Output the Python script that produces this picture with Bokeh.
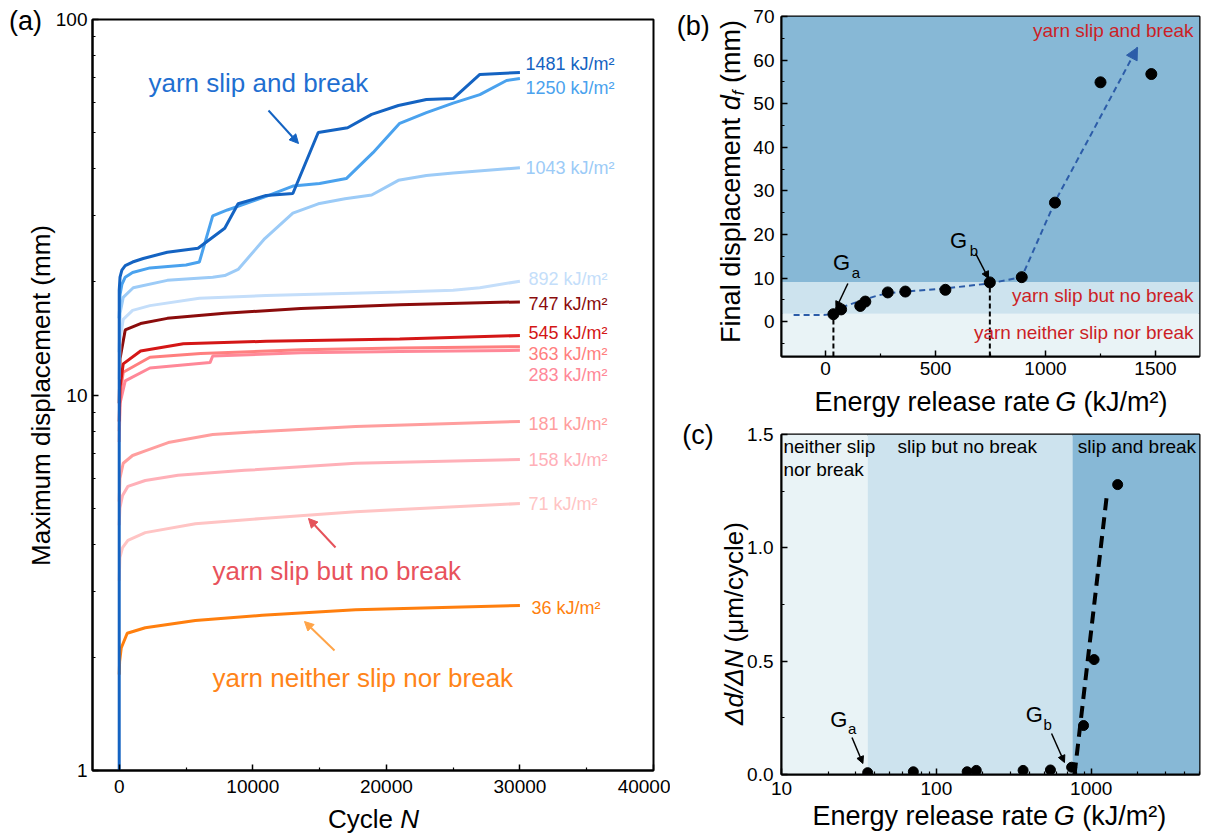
import numpy as np
from bokeh.plotting import figure
from bokeh.layouts import row, column
from bokeh.models import (Arrow, NormalHead, BoxAnnotation, FixedTicker,
                          PrintfTickFormatter, Range1d)
from bokeh.core.properties import value
from bokeh.embed import file_html
from bokeh.resources import INLINE

FONT = "Liberation Sans"
NB = "\u00a0"

# ------------------------------------------------------------------ data (a)
series_names = ["36", "71", "158", "181", "283", "363", "545", "747", "892", "1043", "1250", "1481"]

n_36 = [0, 30, 150, 600, 1950, 5700, 10700, 17700, 30000]
d_36 = [1.8, 1.95, 2.12, 2.32, 2.40, 2.51, 2.59, 2.68, 2.75]
n_71 = [0, 50, 250, 650, 1950, 5700, 10700, 17700, 30000]
d_71 = [3.2, 3.69, 3.92, 4.10, 4.30, 4.54, 4.69, 4.89, 5.14]
n_158 = [0, 50, 250, 650, 1950, 4400, 9400, 17700, 30000]
d_158 = [4.5, 5.0, 5.4, 5.71, 5.92, 6.11, 6.3, 6.58, 6.73]
n_181 = [0, 50, 300, 1000, 1950, 3670, 7000, 10700, 17700, 30000]
d_181 = [5.2, 6.0, 6.58, 6.9, 7.1, 7.47, 7.85, 8.0, 8.24, 8.5]
n_283 = [0, 60, 450, 2300, 6800, 7000, 13600, 21000, 30000]
d_283 = [7.5, 9.5, 10.9, 11.8, 12.2, 12.7, 12.95, 13.05, 13.15]
n_363 = [0, 60, 300, 2300, 6100, 13600, 21000, 30000]
d_363 = [8.0, 10.0, 11.5, 12.6, 12.9, 13.2, 13.35, 13.45]
n_545 = [0, 60, 300, 1600, 4800, 11000, 21000, 30000]
d_545 = [8.5, 10.5, 12.1, 13.1, 13.7, 13.9, 14.1, 14.4]
n_747 = [0, 60, 450, 1600, 3600, 7900, 13600, 21000, 30000]
d_747 = [9.5, 12.5, 14.9, 15.5, 16.0, 16.5, 17.0, 17.4, 17.7]
n_892 = [0, 60, 300, 1000, 2300, 6000, 11000, 16000, 21000, 25000, 27000, 30000]
d_892 = [11.0, 14.0, 15.9, 16.8, 17.3, 18.1, 18.4, 18.6, 18.8, 19.0, 19.3, 20.1]
n_1043 = [0, 60, 300, 1050, 3600, 7000, 7900, 8900, 10900, 13000, 14900, 16900, 18900, 20900, 23000, 25000, 30000]
d_1043 = [13.0, 16.5, 18.2, 19.3, 20.2, 20.6, 20.8, 21.6, 26.1, 30.5, 32.3, 33.3, 34.1, 37.3, 38.4, 39.0, 40.3]
n_1250 = [0, 60, 200, 450, 1000, 2300, 5000, 6000, 7000, 8100, 9100, 11000, 13000, 15000, 17000, 19000, 21000, 23000, 25000, 27000, 29000, 30000]
d_1250 = [16.0, 18.5, 19.7, 20.6, 21.2, 21.8, 22.2, 22.6, 30.0, 31.1, 32.0, 33.8, 36.0, 36.6, 37.7, 44.2, 52.9, 56.5, 59.9, 63.1, 68.8, 69.6]
n_1481 = [0, 0, 60, 200, 450, 1000, 1800, 3600, 5900, 7900, 8900, 11000, 13000, 14900, 17100, 18900, 20900, 23000, 25000, 27000, 30000]
d_1481 = [1.0, 19.0, 20.6, 21.5, 22.1, 22.6, 23.1, 24.0, 24.6, 27.8, 32.3, 34.0, 34.4, 50.0, 51.5, 55.9, 59.0, 61.2, 61.6, 71.4, 72.3]

series_n = [n_36, n_71, n_158, n_181, n_283, n_363, n_545, n_747, n_892, n_1043, n_1250, n_1481]
series_d = [d_36, d_71, d_158, d_181, d_283, d_363, d_545, d_747, d_892, d_1043, d_1250, d_1481]
label_units = " kJ/m²"

# ------------------------------------------------------------------ data (b)
G_b = [36, 71, 158, 181, 283, 363, 545, 747, 892, 1043, 1250, 1481]
df_b = [1.7, 2.8, 3.6, 4.6, 6.7, 6.9, 7.3, 9.0, 10.2, 27.3, 54.9, 56.8]
trend_G = [-145, 0, 33, 81, 156, 231, 281, 359, 542, 743, 892, 1043, 1250, 1418]
trend_d = [1.5, 1.55, 1.8, 3.4, 4.75, 5.9, 6.5, 6.87, 7.6, 8.75, 10.2, 27.5, 47.0, 62.9]
crit_G_b = [36, 747]
crit_d_b = [1.7, 9.0]
band_edges_b = [-8, 1.8, 9.1, 70]

# ------------------------------------------------------------------ data (c)
G_c = [36, 71, 158, 181, 363, 545, 747, 892, 1043, 1481]
rate_c = [0.008, 0.012, 0.012, 0.018, 0.018, 0.02, 0.032, 0.216, 0.507, 1.279]
fit_G = [780, 1260]
fit_rate = [0.0, 1.23]
band_edges_c = [10, 36, 757, 5000]

# ------------------------------------------------------------------ styles
series_colors = ["#ff7f0e", "#ffc4c4", "#ffb0b8", "#ff9e9e", "#ff8898", "#ff7f7f",
                 "#d41616", "#8b0c0c", "#c4defa", "#9ccbf7", "#4aa2ee", "#1463c2"]
band_colors = ["#e9f3f6", "#cde3ee", "#87b8d6"]

# canvas split and frames (global pixel coordinates) and ranges
WA = 670
FA = dict(L=92, R=653, T=19, B=770)
FB = dict(L=777, R=1199, T=16, B=356)
FC = dict(L=781, R=1202, T=434, B=774)
XA, YA = (-2000, 40000), (1, 100)
XB, YB = (-200, 1700), (-8, 70)
XC, YC = (10, 5000), (0, 1.5)


def conv_a(x, y):
    nx = XA[0] + (x - FA['L']) / (FA['R'] - FA['L']) * (XA[1] - XA[0])
    ly = np.log10(YA[0]) + (FA['B'] - y) / (FA['B'] - FA['T']) * (np.log10(YA[1]) - np.log10(YA[0]))
    return nx, 10 ** ly


def conv_b(x, y):
    gx = XB[0] + (x - FB['L']) / (FB['R'] - FB['L']) * (XB[1] - XB[0])
    dy = YB[0] + (FB['B'] - y) / (FB['B'] - FB['T']) * (YB[1] - YB[0])
    return gx, dy


def conv_c(x, y):
    lx = np.log10(XC[0]) + (x - FC['L']) / (FC['R'] - FC['L']) * (np.log10(XC[1]) - np.log10(XC[0]))
    ry = YC[0] + (FC['B'] - y) / (FC['B'] - FC['T']) * (YC[1] - YC[0])
    return 10 ** lx, ry


AW = {' ': 278, NB: 278, '(': 333, ')': 333, '/': 278, '²': 333, 'C': 722, 'E': 667, 'F': 611,
      'G': 778, 'M': 833, 'N': 722, 'J': 500, 'Δ': 668, 'μ': 576, 'a': 556, 'b': 556,
      'c': 500, 'd': 556, 'e': 556, 'f': 278, 'g': 556, 'i': 222, 'k': 500, 'l': 222,
      'm': 833, 'n': 556, 'o': 556, 'p': 556, 'r': 333, 's': 500, 't': 278, 'u': 556,
      'x': 500, 'y': 500}


def tw(s, size):
    return sum(AW.get(ch, 556) for ch in s) * size / 1000.0


def lab(p, conv, x, y, text, size, color="black", italic=False, align="left", angle=0.0,
        on_baseline=True):
    # (x, y): canvas pixels; if on_baseline, y (or x when rotated) is the text baseline
    if on_baseline:
        if angle == 0.0:
            y = y - 0.35 * size
        else:
            x = x - 0.35 * size
    dx, dy = conv(x, y)
    p.text(x=[dx], y=[dy], text=[text], text_font=value(FONT), text_font_size=f"{size}px",
           text_font_style="italic" if italic else "normal", text_color=color,
           text_align=align, text_baseline="middle", angle=angle, level="overlay")


def rich_h(p, conv, pieces, cx, by, color="black"):
    total = sum(tw(t, s) for t, s, it, d in pieces)
    x = cx - total / 2
    for t, s, it, d in pieces:
        lab(p, conv, x, by - d, t, s, color, it)
        x += tw(t, s)


def rich_v(p, conv, pieces, bx, cy, color="black"):
    total = sum(tw(t, s) for t, s, it, d in pieces)
    y = cy + total / 2
    for t, s, it, d in pieces:
        lab(p, conv, bx - d, y, t, s, color, it, angle=np.pi / 2)
        y -= tw(t, s)


def arrow(p, conv, x0, y0, x1, y1, color, width=2, head=9):
    a0, b0 = conv(x0, y0)
    a1, b1 = conv(x1, y1)
    p.add_layout(Arrow(x_start=a0, y_start=b0, x_end=a1, y_end=b1, line_color=color,
                       line_width=width,
                       end=NormalHead(size=head, fill_color=color, line_color=color, line_width=1)))


def style(p, xticks, xminor, yticks, yminor, xfmt, yfmt, xstand, ystand):
    p.xaxis.ticker = FixedTicker(ticks=xticks, minor_ticks=xminor)
    p.yaxis.ticker = FixedTicker(ticks=yticks, minor_ticks=yminor)
    p.xaxis.formatter = PrintfTickFormatter(format=xfmt)
    p.yaxis.formatter = PrintfTickFormatter(format=yfmt)
    for ax in (p.xaxis[0], p.yaxis[0]):
        ax.axis_line_color = "black"
        ax.axis_line_width = 2
        ax.major_tick_in = 6
        ax.major_tick_out = 0
        ax.minor_tick_in = 3
        ax.minor_tick_out = 0
        ax.major_tick_line_color = "black"
        ax.major_tick_line_width = 1.5
        ax.minor_tick_line_color = "black"
        ax.minor_tick_line_width = 1.2
        ax.major_label_text_font = FONT
        ax.major_label_text_font_size = "19px"
        ax.major_label_text_color = "black"
    p.xaxis.major_label_standoff = xstand
    p.yaxis.major_label_standoff = ystand
    p.xgrid.visible = False
    p.ygrid.visible = False
    p.outline_line_color = "black"
    p.outline_line_width = 2
    p.outline_line_alpha = 1.0
    p.background_fill_color = "white"
    p.border_fill_color = "white"


# ------------------------------------------------------------------ panel (a)
pa = figure(width=WA, height=835, y_axis_type="log", output_backend="svg",
            toolbar_location=None, title=None,
            x_range=Range1d(*XA), y_range=Range1d(*YA),
            min_border_left=FA['L'], min_border_right=WA - FA['R'],
            min_border_top=FA['T'], min_border_bottom=835 - FA['B'])
style(pa, [0, 10000, 20000, 30000, 40000], [5000, 15000, 25000, 35000],
      [1, 10, 100], [2, 3, 4, 5, 6, 7, 8, 9, 20, 30, 40, 50, 60, 70, 80, 90],
      "%d", "%d", 9, 5)

for n, d, c in zip(series_n, series_d, series_colors):
    pa.line(n, d, line_color=c, line_width=3)

label_y_px = {"1481": 63, "1250": 87, "1043": 167, "892": 278, "747": 303, "545": 332,
              "363": 353, "283": 374, "181": 423, "158": 459, "71": 503, "36": 607}
label_x_px = {"1481": 525, "1250": 525, "1043": 525, "36": 531}
for name, c in zip(series_names, series_colors):
    lab(pa, conv_a, label_x_px.get(name, 528), label_y_px[name], name + label_units, 18, c,
        on_baseline=False)

lab(pa, conv_a, 148, 92, "yarn slip and break", 26, "#1f6fd1")
lab(pa, conv_a, 212, 580, "yarn slip but no break", 26, "#e8525c")
lab(pa, conv_a, 212, 687, "yarn neither slip nor break", 26, "#ff8418")
arrow(pa, conv_a, 268, 110, 298, 143, "#1463c2")
arrow(pa, conv_a, 335, 547, 308, 518, "#e5525a")
arrow(pa, conv_a, 334, 650, 304, 621, "#ffa448")

lab(pa, conv_a, 40, 395, "Maximum displacement (mm)", 26, align="center",
    angle=np.pi / 2, on_baseline=False)
rich_h(pa, conv_a, [("Cycle" + NB, 26, False, 0), ("N", 26, True, 0)], 373, 828)
lab(pa, conv_a, 25, 20, "(a)", 27, align="center", on_baseline=False)

# ------------------------------------------------------------------ panel (b)
WB = 1206 - WA
pb = figure(width=WB, height=420, output_backend="svg", toolbar_location=None, title=None,
            x_range=Range1d(*XB), y_range=Range1d(*YB),
            min_border_left=FB['L'] - WA, min_border_right=1206 - FB['R'],
            min_border_top=FB['T'], min_border_bottom=420 - FB['B'])
style(pb, [0, 500, 1000, 1500], [250, 750, 1250],
      [0, 10, 20, 30, 40, 50, 60, 70], [-5, 5, 15, 25, 35, 45, 55, 65],
      "%d", "%d", 5, 7)

for lo, hi, c in zip(band_edges_b[:-1], band_edges_b[1:], band_colors):
    pb.add_layout(BoxAnnotation(bottom=lo, top=hi, fill_color=c, fill_alpha=1.0,
                                line_alpha=0, level="underlay"))

pb.segment(x0=crit_G_b, y0=[YB[0]] * len(crit_G_b), x1=crit_G_b, y1=crit_d_b,
           line_color="black", line_width=2, line_dash="5 3")
pb.line(trend_G, trend_d, line_color="#2c5ca8", line_width=2, line_dash="6 4")
pb.add_layout(Arrow(x_start=trend_G[-2], y_start=trend_d[-2], x_end=trend_G[-1], y_end=trend_d[-1],
                    line_alpha=0,
                    end=NormalHead(size=12, fill_color="#2c5ca8", line_color="#2c5ca8")))
pb.scatter(G_b, df_b, size=11, color="black")

red = "#cc1f26"
lab(pb, conv_b, 1193, 37, "yarn slip and break", 19, red, align="right")
lab(pb, conv_b, 1193, 302, "yarn slip but no break", 19, red, align="right")
lab(pb, conv_b, 1193, 339, "yarn neither slip nor break", 19, red, align="right")

lab(pb, conv_b, 829, 270, "G", 22)
lab(pb, conv_b, 848, 277, "a", 15)
arrow(pb, conv_b, 844, 283, 832, 308, "black", 1.5, 7)
lab(pb, conv_b, 947, 248, "G", 22)
lab(pb, conv_b, 967, 255, "b", 15)
arrow(pb, conv_b, 973, 253, 986, 278, "black", 1.5, 7)

rich_v(pb, conv_b, [("Final displacement" + NB, 27, False, 0), ("d", 27, True, 0),
                    ("f", 17, True, -5), (NB + "(mm)", 27, False, 0)], 735, 181)
rich_h(pb, conv_b, [("Energy release rate" + NB, 27, False, 0), ("G", 27, True, 0),
                    (NB + "(kJ/m²)", 27, False, 0)], 988, 411)
lab(pb, conv_b, 688, 25, "(b)", 27, align="center", on_baseline=False)

# ------------------------------------------------------------------ panel (c)
pc = figure(width=WB, height=415, x_axis_type="log", output_backend="svg",
            toolbar_location=None, title=None,
            x_range=Range1d(*XC), y_range=Range1d(*YC),
            min_border_left=FC['L'] - WA, min_border_right=1206 - FC['R'],
            min_border_top=FC['T'] - 420, min_border_bottom=835 - FC['B'])
style(pc, [10, 100, 1000],
      [20, 30, 40, 50, 60, 70, 80, 90, 200, 300, 400, 500, 600, 700, 800, 900, 2000, 3000, 4000, 5000],
      [0, 0.5, 1.0, 1.5], [0.25, 0.75, 1.25], "%d", "%.1f", 7, 8)

for lo, hi, c in zip(band_edges_c[:-1], band_edges_c[1:], band_colors):
    pc.add_layout(BoxAnnotation(left=lo, right=hi, fill_color=c, fill_alpha=1.0,
                                line_alpha=0, level="underlay"))

pc.line(fit_G, fit_rate, line_color="black", line_width=4, line_dash="12 7")
pc.scatter(G_c, rate_c, size=10, color="black")

lab(pc, conv_c, 783, 453, "neither slip", 19)
lab(pc, conv_c, 783, 476, "nor break", 19)
lab(pc, conv_c, 968, 453, "slip but no break", 19, align="center")
lab(pc, conv_c, 1139, 453, "slip and break", 19, align="center")

lab(pc, conv_c, 830, 727, "G", 22)
lab(pc, conv_c, 848, 733, "a", 15)
arrow(pc, conv_c, 852, 737, 863, 763, "black", 1.5, 7)
lab(pc, conv_c, 1027, 722, "G", 22)
lab(pc, conv_c, 1045, 729, "b", 15)
arrow(pc, conv_c, 1053, 733, 1066, 762, "black", 1.5, 7)

rich_v(pc, conv_c, [("Δd/ΔN", 26, True, 0), (NB + "(μm/cycle)", 26, False, 0)], 742, 623)
rich_h(pc, conv_c, [("Energy release rate" + NB, 27, False, 0), ("G", 27, True, 0),
                    (NB + "(kJ/m²)", 27, False, 0)], 990, 825)
lab(pc, conv_c, 697, 434, "(c)", 27, align="center", on_baseline=False)

layout = row(pa, column(pb, pc))
open("out.html", "w").write(file_html(layout, INLINE))
